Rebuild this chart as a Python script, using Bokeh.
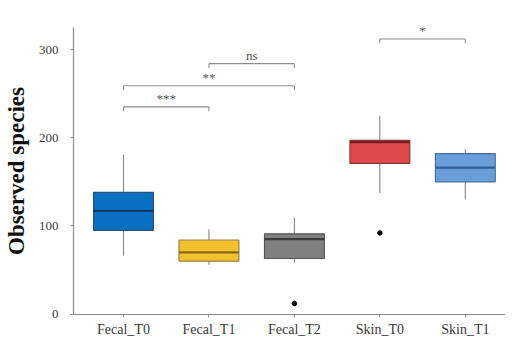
from bokeh.plotting import figure
from bokeh.models import Range1d, FixedTicker
from bokeh.core.properties import value
from bokeh.embed import file_html
from bokeh.resources import INLINE

categories = ["Fecal_T0", "Fecal_T1", "Fecal_T2", "Skin_T0", "Skin_T1"]
q1 = [95, 60, 63, 171, 150]
median = [117, 70, 85, 195, 166]
q3 = [138, 84, 91, 197, 182]
whisk_lo = [66, 56, 59, 137, 130]
whisk_hi = [181, 96, 109, 225, 187]
fill_colors = ["#0a70c2", "#f2c12e", "#808080", "#e04a4a", "#6a9edb"]
median_colors = ["#0d3a66", "#8a6a1a", "#3c3c3c", "#7a1c1c", "#2f5f96"]
outline_colors = ["#2a4f78", "#9a8040", "#555555", "#8a3434", "#4a6e98"]

outlier_cat = ["Fecal_T2", "Skin_T0"]
outlier_val = [12, 92]

# significance brackets: (left category, right category, height, label)
br_left = ["Fecal_T0", "Fecal_T0", "Fecal_T1", "Skin_T0"]
br_right = ["Fecal_T1", "Fecal_T2", "Fecal_T2", "Skin_T1"]
br_y = [235, 259, 284, 312]
br_label = ["***", "**", "ns", "*"]

pos = {c: i + 1 for i, c in enumerate(categories)}
xs = [pos[c] for c in categories]

FONT = "Liberation Serif"

p = figure(width=505, height=339, output_backend="svg", toolbar_location=None,
           x_range=Range1d(0.415, 5.47), y_range=Range1d(-0.5, 325),
           min_border_left=73, min_border_top=27, min_border_right=0, min_border_bottom=20)
p.outline_line_color = None
p.xgrid.grid_line_color = None
p.ygrid.grid_line_color = None
p.background_fill_color = "white"

# whiskers
p.segment(x0=xs, x1=xs, y0=whisk_lo, y1=q1, line_color="#8f8f8f", line_width=1.2)
p.segment(x0=xs, x1=xs, y0=q3, y1=whisk_hi, line_color="#8f8f8f", line_width=1.2)
# boxes
p.vbar(x=xs, width=0.7, bottom=q1, top=q3, fill_color=fill_colors,
       line_color=outline_colors, line_width=1.2)
# medians
p.segment(x0=[x - 0.35 for x in xs], x1=[x + 0.35 for x in xs], y0=median, y1=median,
          line_color=median_colors, line_width=2.2)
# outliers
p.scatter(x=[pos[c] for c in outlier_cat], y=outlier_val, size=4.5, color="black")

# brackets
bl = [pos[c] for c in br_left]
brr = [pos[c] for c in br_right]
tick = 5
p.segment(x0=bl, x1=brr, y0=br_y, y1=br_y, line_color="#8c8c8c", line_width=1.1)
p.segment(x0=bl, x1=bl, y0=br_y, y1=[y - tick for y in br_y], line_color="#8c8c8c", line_width=1.1)
p.segment(x0=brr, x1=brr, y0=br_y, y1=[y - tick for y in br_y], line_color="#8c8c8c", line_width=1.1)
p.text(x=[(a + b) / 2 for a, b in zip(bl, brr)], y=[y + 1 for y in br_y], text=br_label,
       text_font=value(FONT), text_font_size="13px", text_color="#555555",
       text_align="center", text_baseline="bottom")

# axes
p.xaxis.ticker = FixedTicker(ticks=xs)
p.xaxis.major_label_overrides = {x: c for x, c in zip(xs, categories)}
p.yaxis.ticker = FixedTicker(ticks=[0, 100, 200, 300])
for ax in (p.xaxis, p.yaxis):
    ax.axis_line_color = "#8a8a8a"
    ax.axis_line_width = 1.2
    ax.major_tick_line_color = "#8a8a8a"
    ax.major_tick_out = 3
    ax.major_tick_in = 0
    ax.minor_tick_line_color = None
    ax.major_label_text_font = FONT
    ax.major_label_text_color = "#3a3a3a"
p.xaxis.major_label_text_font_size = "14px"
p.yaxis.major_label_text_font_size = "13px"
p.xaxis.major_label_standoff = 4
p.yaxis.major_label_standoff = 12
p.yaxis.axis_label = "Observed species"
p.yaxis.axis_label_text_font = FONT
p.yaxis.axis_label_text_font_style = "bold"
p.yaxis.axis_label_text_font_size = "23px"
p.yaxis.axis_label_text_color = "#111111"
p.yaxis.axis_label_standoff = 7

open("out.html", "w").write(file_html(p, INLINE))
